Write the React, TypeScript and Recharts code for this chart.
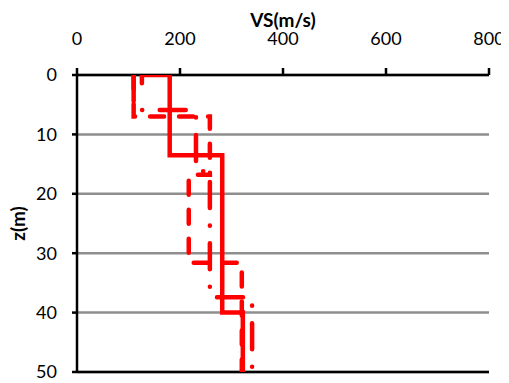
import React from 'react';
import { ScatterChart, Scatter, XAxis, YAxis, CartesianGrid, ReferenceLine } from 'recharts';

// Solid profile
const solidVs = [126, 126, 180, 180, 282, 282, 322, 322];
const solidZ = [1.4, 0, 0, 13.5, 13.5, 40, 40, 50];
// Dashed profile
const dashVs = [110, 110, 258, 258, 217, 217, 320, 320];
const dashZ = [0, 7, 7, 16.8, 16.8, 31.6, 31.6, 50];
// Dash-dot profile
const dashDotVs = [110, 110, 231, 231, 258, 258, 340, 340];
const dashDotZ = [0, 5.9, 5.9, 16.2, 16.2, 37.4, 37.4, 50];

const xTicks = [0, 200, 400, 600, 800];
const yTicks = [0, 10, 20, 30, 40, 50];

const toPoints = (vs: number[], z: number[]) => vs.map((v, i) => ({ vs: v, z: z[i] }));

const solidData = toPoints(solidVs, solidZ);
const dashData = toPoints(dashVs, dashZ);
const dashDotData = toPoints(dashDotVs, dashDotZ);

const RED = '#ff0000';
const FONT = 'Lato, "Open Sans", sans-serif';

const YLabel = (props: any) => {
  const vb = props.viewBox || {};
  const x = 9;
  const y = vb.y + vb.height / 2;
  return (
    <text
      x={x}
      y={y}
      transform={`rotate(-90 ${x} ${y})`}
      textAnchor="middle"
      dominantBaseline="central"
      fontFamily={FONT}
      fontWeight="bold"
      fontSize={19}
      fill="#000"
    >
      z(m)
    </text>
  );
};

const XLabel = (props: any) => {
  const vb = props.viewBox || {};
  const x = vb.x + vb.width / 2;
  return (
    <text
      x={x}
      y={11}
      textAnchor="middle"
      dominantBaseline="central"
      fontFamily={FONT}
      fontWeight="bold"
      fontSize={19}
      fill="#000"
    >
      VS(m/s)
    </text>
  );
};

const noShape = () => <g />;

const lineStyle = (dash?: string) => ({
  stroke: RED,
  strokeWidth: 4.5,
  fill: 'none',
  strokeLinecap: 'round' as const,
  strokeLinejoin: 'miter' as const,
  strokeDasharray: dash,
});

export default function App() {
  return (
    <div>
      <style>{'html{overflow:hidden;} body{overflow:visible;} svg{overflow:visible;}'}</style>
      <ScatterChart
        width={509}
        height={375}
        margin={{ top: 0, right: 28, bottom: 11, left: 0 }}
      >
        <CartesianGrid vertical={false} stroke="#8e8e8e" strokeWidth={2.5} />
        <XAxis
          type="number"
          dataKey="vs"
          orientation="top"
          domain={[0, 800]}
          ticks={xTicks}
          height={67}
          tickSize={7}
          tickMargin={23}
          axisLine={{ stroke: '#000', strokeWidth: 2.5 }}
          tickLine={{ stroke: '#000', strokeWidth: 2.5 }}
          tick={{ fontFamily: FONT, fontSize: 18, fill: '#000' }}
          label={<XLabel />}
          allowDataOverflow
        />
        <YAxis
          type="number"
          dataKey="z"
          domain={[0, 50]}
          reversed
          ticks={yTicks}
          width={69}
          tickSize={5}
          tickMargin={15}
          axisLine={{ stroke: '#000', strokeWidth: 2.5 }}
          tickLine={{ stroke: '#000', strokeWidth: 2.5 }}
          tick={{ fontFamily: FONT, fontSize: 18, fill: '#000' }}
          label={<YLabel />}
          allowDataOverflow
        />
        <ReferenceLine y={50} stroke="#000" strokeWidth={2.5} />
        <Scatter
          data={dashData}
          line={lineStyle('14 15')}
          lineType="joint"
          shape={noShape}
          fill={RED}
          isAnimationActive={false}
        />
        <Scatter
          data={dashDotData}
          line={lineStyle('26 17.5 0.1 17.5')}
          lineType="joint"
          shape={noShape}
          fill={RED}
          isAnimationActive={false}
        />
        <Scatter
          data={solidData}
          line={lineStyle()}
          lineType="joint"
          shape={noShape}
          fill={RED}
          isAnimationActive={false}
        />
      </ScatterChart>
    </div>
  );
}
